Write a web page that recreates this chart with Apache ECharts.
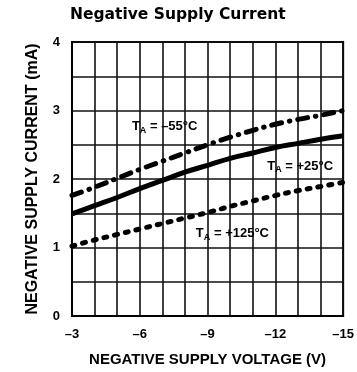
<!DOCTYPE html>
<html><head><meta charset="utf-8">
<script src="https://cdn.jsdelivr.net/npm/echarts@6/dist/echarts.min.js"></script>
<style>html,body{margin:0;padding:0;background:#fff}#c{width:357px;height:372px}</style>
</head><body><div id="c"></div>
<script>
const voltage = [-3,-4,-5,-6,-7,-8,-9,-10,-11,-12,-13,-14,-15];
const currentM55 = [1.76,1.88,2.01,2.14,2.26,2.38,2.50,2.61,2.71,2.80,2.87,2.93,3.00];
const current25  = [1.49,1.61,1.73,1.86,1.98,2.10,2.20,2.30,2.38,2.46,2.52,2.58,2.63];
const current125 = [1.02,1.11,1.19,1.27,1.35,1.43,1.51,1.60,1.68,1.76,1.83,1.89,1.95];
const seriesNames = ['-55°C','+25°C','+125°C'];
const labelTemps = ['–55°C','+25°C','+125°C'];
const labelCoords = [[-7.1,2.77],[-13.1,2.19],[-10.1,1.2]];

const FONT = '"Liberation Sans",Arial,sans-serif';
const pairs = arr => voltage.map((v,i)=>[v,arr[i]]);
function lbl(i){
  return {
    symbol:'circle', symbolSize:0,
    data:[{coord:labelCoords[i]}],
    label:{show:true, position:'inside',
      formatter:'{t|T}{s|A}{t| = '+labelTemps[i]+'}',
      rich:{
        t:{fontFamily:FONT,fontWeight:'bold',fontSize:13,color:'#000',lineHeight:16,verticalAlign:'middle'},
        s:{fontFamily:FONT,fontWeight:'bold',fontSize:9,color:'#000',lineHeight:16,padding:[8,0,0,0],verticalAlign:'middle'}
      }}
  };
}
const chart = echarts.init(document.getElementById('c'));
chart.setOption({
  animation:false,
  title:{text:'Negative Supply Current', left:70, top:7, padding:0,
    textStyle:{fontFamily:'"DejaVu Sans",sans-serif',fontWeight:'bold',fontSize:15.5,color:'#000'}},
  grid:{left:72,width:280,top:42,height:279,show:true,borderColor:'#000',borderWidth:2},
  xAxis:{type:'value',min:-15,max:-3,interval:3,inverse:true,
    name:'NEGATIVE SUPPLY VOLTAGE (V)',nameLocation:'middle',nameGap:36,
    nameTextStyle:{fontFamily:FONT,fontWeight:'bold',fontSize:15,color:'#000'},
    axisLine:{show:true,lineStyle:{color:'#000',width:2}},
    axisTick:{show:false},
    axisLabel:{formatter:v=>String(v).replace('-','–'),fontFamily:FONT,fontWeight:'bold',fontSize:13,color:'#000',margin:12},
    splitLine:{show:true,lineStyle:{color:'#111',width:1.6}},
    minorTick:{show:false,splitNumber:3},
    minorSplitLine:{show:true,lineStyle:{color:'#111',width:1.6}}
  },
  yAxis:{type:'value',min:0,max:4,interval:1,
    name:'NEGATIVE SUPPLY CURRENT (mA)',nameLocation:'middle',nameGap:31,
    nameTextStyle:{fontFamily:FONT,fontWeight:'bold',fontSize:16,color:'#000'},
    axisLine:{show:true,lineStyle:{color:'#000',width:2}},
    axisTick:{show:false},
    axisLabel:{fontFamily:FONT,fontWeight:'bold',fontSize:13,color:'#000',margin:12},
    splitLine:{show:true,lineStyle:{color:'#111',width:1.6}},
    minorTick:{show:false,splitNumber:2},
    minorSplitLine:{show:true,lineStyle:{color:'#111',width:1.6}}
  },
  series:[
    {name:seriesNames[0],type:'line',smooth:0.4,symbol:'none',data:pairs(currentM55),
     lineStyle:{color:'#000',width:5,type:[10,8,0.5,8],cap:'round'},markPoint:lbl(0)},
    {name:seriesNames[1],type:'line',smooth:0.4,symbol:'none',data:pairs(current25),
     lineStyle:{color:'#000',width:5},markPoint:lbl(1)},
    {name:seriesNames[2],type:'line',smooth:0.4,symbol:'none',data:pairs(current125),
     lineStyle:{color:'#000',width:5,type:[3,8],cap:'round'},markPoint:lbl(2)}
  ]
});
</script></body></html>
